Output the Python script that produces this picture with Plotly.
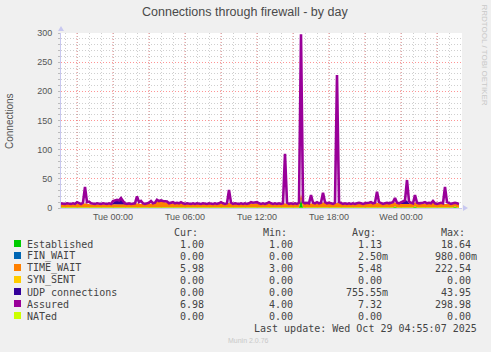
import plotly.graph_objects as go
import pandas as pd

# ---------------- data (10-minute samples) ----------------
START = "2025-10-27 19:40"
STEP = "10min"

established = [
    1, 1, 1, 1, 1, 1, 1, 1, 1, 1, 1, 1, 1, 1, 1, 1, 1, 1, 1, 1,
    1, 1, 1, 1, 1, 1, 1, 1, 1, 1, 1, 1, 1, 1, 1, 1, 1, 1, 1, 1,
    1, 1, 1, 1, 1, 1, 1, 1, 1, 1, 1, 1, 1, 1, 1, 1, 1, 1, 1, 1,
    1, 1, 1, 1, 1, 1, 1, 1, 1, 1, 1, 1, 1, 1, 1, 1, 1, 1, 1, 1,
    1, 1, 1, 1, 1, 1, 1, 1, 1, 1, 1, 1, 1, 1, 1, 1, 1, 1, 1, 1,
    1, 1, 1, 1, 1, 1, 1, 1, 1, 1, 1, 1, 1, 1, 1, 1, 1, 1, 1, 1,
    15, 1, 1, 1, 1, 1, 1, 1, 1, 1, 1, 2, 1, 1, 1, 1, 1, 1, 1, 1,
    1, 1, 1, 1, 1, 1, 1, 1, 1, 1, 1, 1, 1, 1, 1, 1, 1, 1, 1, 1,
    1, 1, 1, 1, 1, 1, 1, 3, 1, 1, 1, 1, 1, 1, 1, 1, 1, 3, 1, 1,
    1, 1, 1, 1, 1, 1, 1, 1, 1, 1, 1, 1, 1, 1, 1, 1, 1, 3, 1, 1,
]
fin_wait = [
    0, 0, 0, 0, 0, 0, 0, 0, 0, 0, 0, 0, 0, 0, 0, 0, 0, 0, 0, 0,
    0, 0, 0, 0, 0, 0, 0, 0, 0, 0, 0, 0, 0, 0, 0, 0, 0, 0, 0, 0,
    0, 0, 0, 0, 0, 0, 0, 0, 0, 0, 0, 0, 0, 0, 0, 0, 0, 0, 0, 0,
    0, 0, 0, 0, 0, 0, 0, 0, 0, 0, 0, 0, 0, 0, 0, 0, 0, 0, 0, 0,
    0, 0, 0, 0, 0, 0, 0, 0, 0, 0, 0, 0, 0, 0, 0, 0, 0, 0, 0, 0,
    0, 0, 0, 0, 0, 0, 0, 0, 0, 0, 0, 0, 0, 0, 0, 0, 0, 0, 0, 0,
    1, 0, 0, 0, 0, 0, 0, 0, 0, 0, 0, 0, 0, 0, 0, 0, 0, 0, 0, 0,
    0, 0, 0, 0, 0, 0, 0, 0, 0, 0, 0, 0, 0, 0, 0, 0, 0, 0, 0, 0,
    0, 0, 0, 0, 0, 0, 0, 0, 0, 0, 0, 0, 0, 0, 0, 0, 0, 0, 0, 0,
    0, 0, 0, 0, 0, 0, 0, 0, 0, 0, 0, 0, 0, 0, 0, 0, 0, 0, 0, 0,
]
time_wait = [
    6, 5, 5, 6, 5, 5, 6, 5, 6, 6, 5, 6, 7, 6, 6, 5, 5, 5, 6, 5,
    5, 6, 5, 5, 6, 5, 5, 6, 6, 5, 6, 6, 6, 5, 6, 5, 5, 6, 7, 6,
    6, 6, 5, 6, 6, 7, 6, 7, 10, 10, 11, 10, 9, 8, 6, 6, 7, 6, 6, 6,
    7, 6, 5, 6, 5, 5, 6, 5, 6, 5, 5, 6, 5, 5, 6, 5, 5, 6, 5, 6,
    7, 6, 5, 6, 8, 6, 5, 6, 5, 5, 6, 5, 6, 5, 6, 7, 6, 7, 7, 6,
    5, 6, 5, 6, 7, 6, 5, 6, 5, 6, 5, 6, 7, 6, 5, 6, 5, 6, 5, 6,
    8, 7, 6, 6, 6, 7, 6, 6, 7, 6, 6, 8, 7, 6, 6, 6, 5, 6, 8, 7,
    6, 5, 6, 5, 6, 5, 6, 5, 6, 6, 6, 5, 6, 6, 6, 7, 6, 6, 8, 7,
    6, 5, 6, 6, 6, 6, 7, 7, 6, 6, 6, 6, 6, 7, 7, 6, 6, 7, 6, 6,
    6, 6, 7, 6, 6, 6, 8, 6, 5, 6, 6, 6, 7, 7, 6, 5, 6, 6, 6, 6,
]
syn_sent = [
    0, 0, 0, 0, 0, 0, 0, 0, 0, 0, 0, 0, 0, 0, 0, 0, 0, 0, 0, 0,
    0, 0, 0, 0, 0, 0, 0, 0, 0, 0, 0, 0, 0, 0, 0, 0, 0, 0, 0, 0,
    0, 0, 0, 0, 0, 0, 0, 0, 0, 0, 0, 0, 0, 0, 0, 0, 0, 0, 0, 0,
    0, 0, 0, 0, 0, 0, 0, 0, 0, 0, 0, 0, 0, 0, 0, 0, 0, 0, 0, 0,
    0, 0, 0, 0, 0, 0, 0, 0, 0, 0, 0, 0, 0, 0, 0, 0, 0, 0, 0, 0,
    0, 0, 0, 0, 0, 0, 0, 0, 0, 0, 0, 0, 0, 0, 0, 0, 0, 0, 0, 0,
    0, 0, 0, 0, 0, 0, 0, 0, 0, 0, 0, 0, 0, 0, 0, 0, 0, 0, 0, 0,
    0, 0, 0, 0, 0, 0, 0, 0, 0, 0, 0, 0, 0, 0, 0, 0, 0, 0, 0, 0,
    0, 0, 0, 0, 0, 0, 0, 0, 0, 0, 0, 0, 0, 0, 0, 0, 0, 0, 0, 0,
    0, 0, 0, 0, 0, 0, 0, 0, 0, 0, 0, 0, 0, 0, 0, 0, 0, 0, 0, 0,
]
udp = [
    0, 0, 0, 0, 0, 0, 0, 0, 0, 0, 0, 0, 0, 0, 0, 0, 0, 0, 0, 0,
    0, 0, 0, 0, 0, 0, 3, 5, 6, 6, 8, 4, 0, 0, 0, 0, 0, 0, 0, 0,
    0, 0, 0, 0, 0, 0, 0, 0, 0, 0, 0, 0, 0, 0, 0, 0, 0, 0, 0, 0,
    0, 0, 0, 0, 0, 0, 0, 0, 0, 0, 0, 0, 0, 0, 0, 0, 0, 0, 0, 0,
    0, 0, 0, 0, 0, 0, 0, 0, 0, 0, 0, 0, 0, 0, 0, 0, 0, 0, 0, 0,
    0, 0, 0, 0, 0, 0, 0, 0, 0, 0, 0, 0, 0, 0, 0, 0, 0, 0, 0, 0,
    0, 0, 0, 0, 0, 0, 0, 0, 0, 0, 0, 0, 0, 0, 0, 0, 0, 0, 0, 0,
    0, 0, 0, 0, 0, 0, 0, 0, 0, 0, 0, 0, 0, 0, 0, 0, 0, 0, 0, 0,
    0, 0, 0, 0, 0, 0, 0, 0, 0, 0, 3, 5, 6, 5, 0, 0, 0, 0, 0, 0,
    0, 0, 0, 0, 0, 0, 0, 0, 0, 0, 0, 0, 0, 0, 0, 0, 0, 0, 0, 0,
]
assured = [
    8, 7, 7, 8, 7, 7, 8, 7, 10, 8, 7, 9, 36, 10, 11, 8, 7, 7, 8, 7,
    7, 8, 7, 7, 8, 7, 12, 13, 14, 13, 17, 12, 8, 7, 8, 7, 7, 8, 20, 10,
    12, 8, 7, 8, 9, 12, 8, 9, 14, 12, 13, 12, 12, 11, 8, 9, 10, 8, 9, 8,
    10, 8, 7, 8, 7, 7, 8, 7, 8, 7, 7, 8, 7, 7, 8, 7, 7, 8, 7, 8,
    10, 8, 7, 8, 31, 9, 7, 8, 7, 7, 8, 7, 8, 7, 8, 10, 9, 10, 10, 8,
    7, 8, 7, 8, 10, 8, 7, 8, 7, 8, 7, 8, 93, 9, 7, 8, 7, 8, 7, 9,
    298, 10, 8, 9, 8, 22, 9, 8, 10, 8, 9, 26, 10, 8, 9, 8, 7, 9, 228, 10,
    8, 7, 8, 7, 8, 7, 8, 7, 8, 9, 8, 7, 8, 8, 9, 10, 8, 9, 28, 10,
    8, 7, 8, 9, 8, 9, 10, 17, 9, 8, 10, 12, 13, 48, 11, 9, 8, 22, 9, 8,
    8, 9, 10, 8, 9, 8, 12, 8, 7, 8, 9, 8, 36, 10, 8, 7, 8, 9, 8, 7,
]
nated = [
    0, 0, 0, 0, 0, 0, 0, 0, 0, 0, 0, 0, 0, 0, 0, 0, 0, 0, 0, 0,
    0, 0, 0, 0, 0, 0, 0, 0, 0, 0, 0, 0, 0, 0, 0, 0, 0, 0, 0, 0,
    0, 0, 0, 0, 0, 0, 0, 0, 0, 0, 0, 0, 0, 0, 0, 0, 0, 0, 0, 0,
    0, 0, 0, 0, 0, 0, 0, 0, 0, 0, 0, 0, 0, 0, 0, 0, 0, 0, 0, 0,
    0, 0, 0, 0, 0, 0, 0, 0, 0, 0, 0, 0, 0, 0, 0, 0, 0, 0, 0, 0,
    0, 0, 0, 0, 0, 0, 0, 0, 0, 0, 0, 0, 0, 0, 0, 0, 0, 0, 0, 0,
    0, 0, 0, 0, 0, 0, 0, 0, 0, 0, 0, 0, 0, 0, 0, 0, 0, 0, 0, 0,
    0, 0, 0, 0, 0, 0, 0, 0, 0, 0, 0, 0, 0, 0, 0, 0, 0, 0, 0, 0,
    0, 0, 0, 0, 0, 0, 0, 0, 0, 0, 0, 0, 0, 0, 0, 0, 0, 0, 0, 0,
    0, 0, 0, 0, 0, 0, 0, 0, 0, 0, 0, 0, 0, 0, 0, 0, 0, 0, 0, 0,
]

series_names = ["Established", "FIN_WAIT", "TIME_WAIT", "SYN_SENT",
                "UDP connections", "Assured", "NATed"]
series_colors = ["#00CC00", "#0066B3", "#FF8000", "#FFCC00",
                 "#330099", "#990099", "#CCFF00"]
cur_vals = ["1.00", "0.00", "5.98", "0.00", "0.00", "6.98", "0.00"]
min_vals = ["1.00", "0.00", "3.00", "0.00", "0.00", "4.00", "0.00"]
avg_vals = ["1.13", "2.50m", "5.48", "0.00", "755.55m", "7.32", "0.00"]
max_vals = ["18.64", "980.00m", "222.54", "0.00", "43.95", "298.98", "0.00"]

title_text = "Connections through firewall - by day"
y_title = "Connections"
last_update = "Last update: Wed Oct 29 04:55:07 2025"
x_range = ["2025-10-27 19:40", "2025-10-29 05:05"]
y_range = [0, 300]

# ---------------- figure ----------------
W, H = 491, 352
L, R, T, B = 61, 462, 33, 208


def px(x):
    return (x - L) / (R - L)


def py(y):
    return (B - y) / (B - T)


times = pd.date_range(START, periods=len(assured), freq=STEP)

fig = go.Figure()
stack_series = [established, fin_wait, time_wait, syn_sent, udp]
for vals, name, col in zip(stack_series, series_names[:5], series_colors[:5]):
    fig.add_trace(go.Scatter(
        x=times, y=vals, name=name, mode="lines", stackgroup="s",
        line=dict(width=0, color=col), fillcolor=col, hoverinfo="skip"))
fig.add_trace(go.Scatter(x=times, y=assured, name=series_names[5], mode="lines",
                         line=dict(width=2.6, color=series_colors[5]), hoverinfo="skip"))
fig.add_trace(go.Scatter(x=times, y=nated, name=series_names[6], mode="lines",
                         line=dict(width=1, color=series_colors[6]), hoverinfo="skip"))

hour_ticks = pd.date_range("2025-10-27 20:00", "2025-10-29 05:00", freq="1h")
tick_text = [t.strftime("%a %H:%M") if t.hour % 6 == 0 else "" for t in hour_ticks]
red_ticks = [t for t in hour_ticks if t.hour % 3 == 0]

MAJ = "rgba(255,60,60,0.55)"
MIN = "rgba(140,140,140,0.42)"
AX = "#C8C8F0"
FONT = "Liberation Sans, Arial, sans-serif"
MONO = "DejaVu Sans Mono, monospace"
TXT = "#444444"

fig.update_layout(
    width=W, height=H,
    margin=dict(l=L, r=W - R, t=T, b=H - B, pad=0),
    paper_bgcolor="#F0F0F0", plot_bgcolor="#FFFFFF",
    showlegend=False,
    font=dict(family=FONT, size=9, color="#555555"),
    xaxis=dict(
        type="date", range=x_range, tickmode="array",
        tickvals=list(hour_ticks), ticktext=tick_text,
        showgrid=True, gridcolor=MIN, griddash="1px,2px", gridwidth=1,
        showline=True, linecolor=AX, linewidth=1, zeroline=False,
        ticks="", tickfont=dict(size=9, color="#555555"),
    ),
    yaxis=dict(
        range=y_range, dtick=50, tick0=0,
        showgrid=True, gridcolor=MAJ, griddash="1px,2px", gridwidth=1,
        minor=dict(dtick=10, showgrid=True, gridcolor=MIN,
                   griddash="1px,2px", gridwidth=1, ticks="outside",
                   ticklen=2, tickcolor="#BBBBBB"),
        showline=True, linecolor=AX, linewidth=1, zeroline=False,
        ticks="outside", ticklen=2, tickcolor="#BBBBBB",
        ticklabelstandoff=4,
        tickfont=dict(size=9, color="#555555"),
    ),
)

ann = []
shapes = []
# red major vertical grid lines every 3 hours
for t in red_ticks:
    shapes.append(dict(type="line", xref="x", yref="paper", x0=t, x1=t, y0=0, y1=1,
                       layer="below", line=dict(color=MAJ, width=1, dash="1px,2px")))

ann.append(dict(text=title_text, x=px(245), y=py(12), xref="paper", yref="paper",
                showarrow=False, xanchor="center", yanchor="middle",
                font=dict(family=FONT, size=12.5, color="#4A4A4A")))
ann.append(dict(text=y_title, x=px(9), y=py(121), xref="paper", yref="paper",
                showarrow=False, textangle=-90, xanchor="center", yanchor="middle",
                font=dict(family=FONT, size=10, color="#555555")))
ann.append(dict(text="RRDTOOL / TOBI OETIKER", x=px(483.5), y=py(55), xref="paper",
                yref="paper", showarrow=False, textangle=90, xanchor="center",
                yanchor="middle", font=dict(family=FONT, size=8, color="#C8C8C8")))

# axis arrows
shapes.append(dict(type="path", xref="paper", yref="paper",
                   path=f"M {px(58)} {py(31)} L {px(64)} {py(31)} L {px(61)} {py(26)} Z",
                   fillcolor=AX, line=dict(width=0)))
shapes.append(dict(type="path", xref="paper", yref="paper",
                   path=f"M {px(463)} {py(205)} L {px(463)} {py(211)} L {px(468)} {py(208)} Z",
                   fillcolor=AX, line=dict(width=0)))

# legend table
row0 = 232
col_right = [212, 301, 390, 479]
headers = ["Cur:", "Min:", "Avg:", "Max:"]
for h, cr in zip(headers, col_right):
    ann.append(dict(text=h, x=px(cr - 12), y=py(row0), xref="paper", yref="paper",
                    showarrow=False, xanchor="right", yanchor="middle",
                    font=dict(family=MONO, size=10, color=TXT)))


def fmt(v):
    return v if v.endswith("m") else v + "\u00a0"


for k, name in enumerate(series_names):
    yy = row0 + 12 * (k + 1)
    shapes.append(dict(type="rect", xref="paper", yref="paper",
                       x0=px(14), x1=px(21), y0=py(yy - 4), y1=py(yy + 3),
                       fillcolor=series_colors[k], line=dict(width=0)))
    ann.append(dict(text=name, x=px(24.5), y=py(yy), xref="paper", yref="paper",
                    showarrow=False, xanchor="left", yanchor="middle",
                    font=dict(family=MONO, size=10, color=TXT)))
    for vals, cr in zip([cur_vals, min_vals, avg_vals, max_vals], col_right):
        ann.append(dict(text=fmt(vals[k]), x=px(cr), y=py(yy), xref="paper",
                        yref="paper", showarrow=False, xanchor="right",
                        yanchor="middle",
                        font=dict(family=MONO, size=10, color=TXT)))

ann.append(dict(text=last_update, x=px(479), y=py(row0 + 12 * 8), xref="paper",
                yref="paper", showarrow=False, xanchor="right", yanchor="middle",
                font=dict(family=MONO, size=10, color=TXT)))
ann.append(dict(text="Munin 2.0.76", x=px(248), y=py(340), xref="paper", yref="paper",
                showarrow=False, xanchor="center", yanchor="middle",
                font=dict(family=FONT, size=7, color="#C8C8C8")))

fig.update_layout(annotations=ann, shapes=shapes)
fig.write_html("out.html")
